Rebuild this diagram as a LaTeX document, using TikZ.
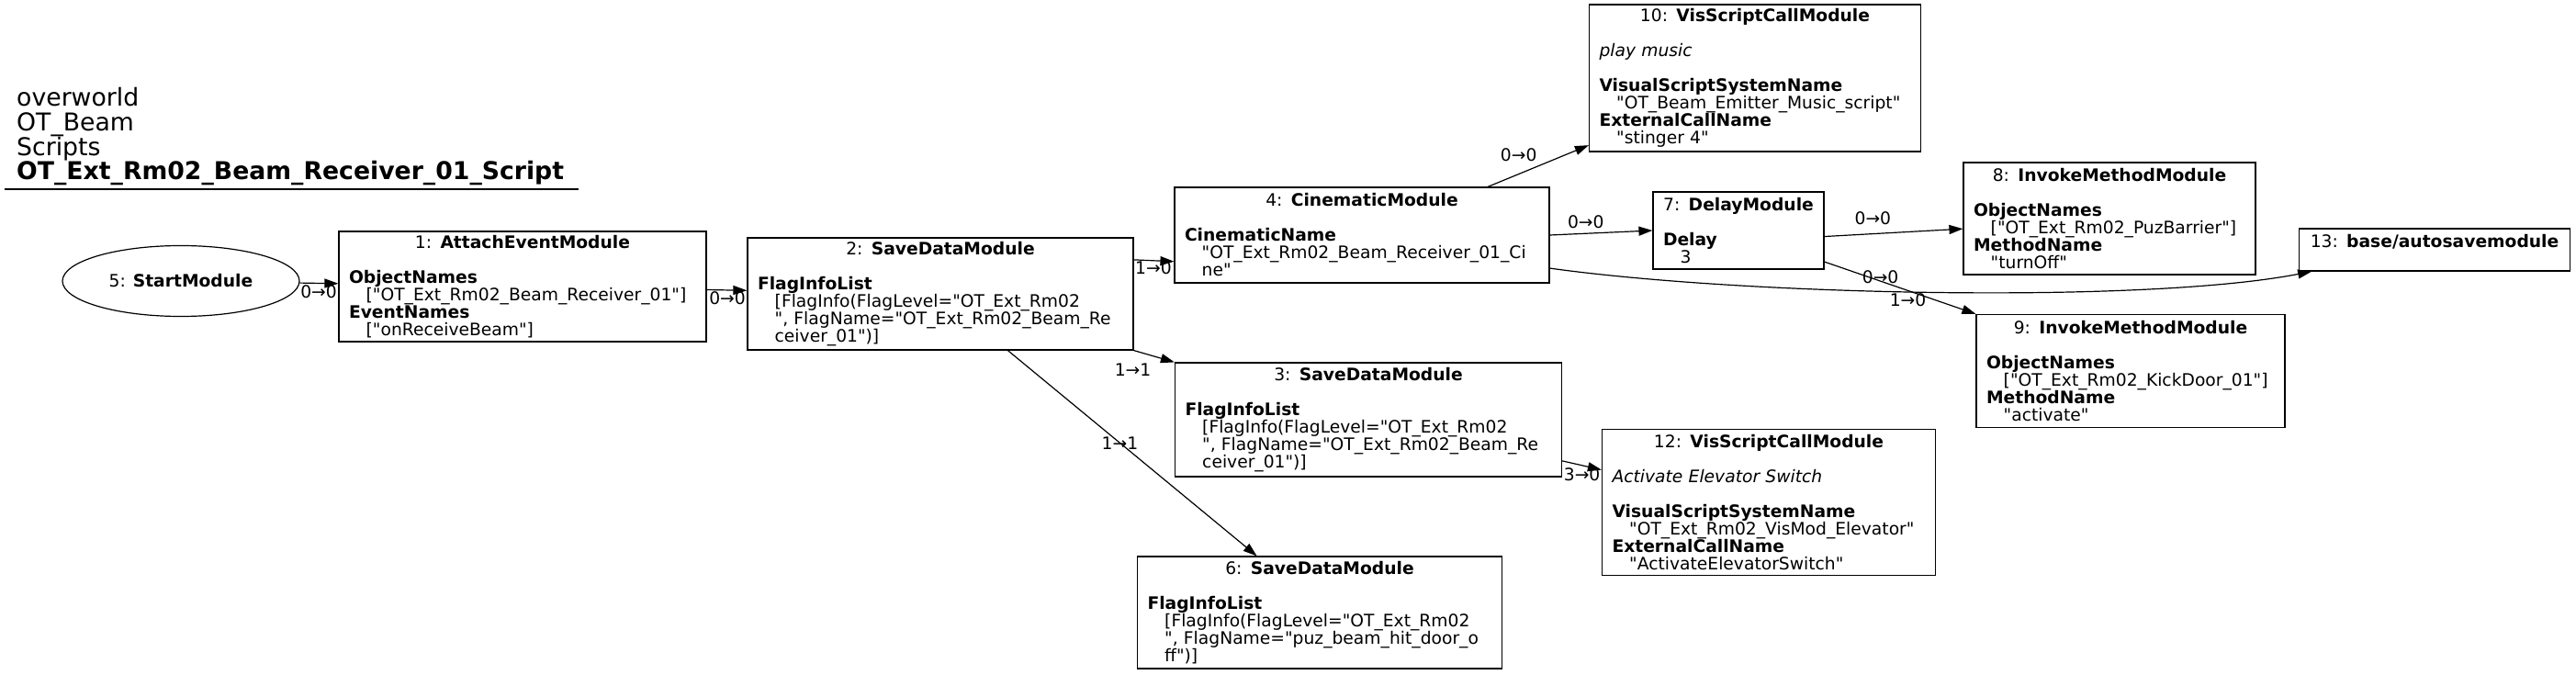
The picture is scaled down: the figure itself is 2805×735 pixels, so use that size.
\documentclass[tikz,border=0pt]{standalone}
\usepackage{fontspec}
\setmainfont{DejaVu Sans}[Ligatures=TeXOff]
\usepackage{tikz}
\usetikzlibrary{shapes.geometric, arrows.meta, positioning}

\newcommand{\modfont}{\fontsize{18.7}{19}\selectfont}
\newcommand{\titlefont}{\fontsize{26.7}{26.8}\selectfont}
\newcommand{\modtitle}[1]{\makebox[\linewidth][c]{#1}}
\newcommand{\fieldval}[1]{\hspace*{1em}\mbox{#1}}

\begin{document}
\begin{tikzpicture}[x=1pt, y=-1pt,
    modbox/.style={draw, rectangle, line width=1.2pt, inner sep=0pt, align=left, font=\modfont},
    edge/.style={line width=1.2pt, -{Triangle[length=15pt, width=10pt]}},
    elabel/.style={font=\modfont, inner sep=1pt}]
    \useasboundingbox (0,0) rectangle (2805,735);
    % Title
    \node[anchor=north west, align=left, inner sep=0pt, font=\titlefont] (title) at (18,95)
        {overworld\\OT\_Beam\\Scripts\\\textbf{OT\_Ext\_Rm02\_Beam\_Receiver\_01\_Script}};
    \draw[line width=1.2pt] (5,206) -- (630,206);
    % Start
    \node[draw, ellipse, line width=1.2pt, minimum width=258pt, minimum height=77pt, inner sep=0pt, font=\modfont]
        (start) at (197,306) {5: \textbf{StartModule}};
    % AttachEvent
    \node[modbox, minimum width=400pt, minimum height=120pt, text width=378pt] (attach) at (569,312)
        {\modtitle{1: \textbf{AttachEventModule}}\\[19pt]
         \textbf{ObjectNames}\\
         \fieldval{["OT\_Ext\_Rm02\_Beam\_Receiver\_01"]}\\
         \textbf{EventNames}\\
         \fieldval{["onReceiveBeam"]}};
    % SaveData 2
    \node[modbox, minimum width=420pt, minimum height=122pt, text width=398pt] (save2) at (1024,320)
        {\modtitle{2: \textbf{SaveDataModule}}\\[19pt]
         \textbf{FlagInfoList}\\
         \fieldval{[FlagInfo(FlagLevel="OT\_Ext\_Rm02}\\
         \fieldval{", FlagName="OT\_Ext\_Rm02\_Beam\_Re}\\
         \fieldval{ceiver\_01")]}};
    % Cinematic
    \node[modbox, minimum width=408pt, minimum height=104pt, text width=386pt] (cine) at (1483,256)
        {\modtitle{4: \textbf{CinematicModule}}\\[19pt]
         \textbf{CinematicName}\\
         \fieldval{"OT\_Ext\_Rm02\_Beam\_Receiver\_01\_Ci}\\
         \fieldval{ne"}};
    % VisScript 10
    \node[modbox, minimum width=361pt, minimum height=160pt, text width=339pt] (vis10) at (1911,85)
        {\modtitle{10: \textbf{VisScriptCallModule}}\\[19pt]
         \textit{play music}\\[19pt]
         \textbf{VisualScriptSystemName}\\
         \fieldval{"OT\_Beam\_Emitter\_Music\_script"}\\
         \textbf{ExternalCallName}\\
         \fieldval{"stinger 4"}};
    % Delay
    \node[modbox, minimum width=186pt, minimum height=84pt, text width=164pt] (delay) at (1893,251)
        {\modtitle{7: \textbf{DelayModule}}\\[19pt]
         \textbf{Delay}\\
         \fieldval{3}};
    % InvokeMethod 8
    \node[modbox, minimum width=318pt, minimum height=122pt, text width=296pt] (im8) at (2297,238)
        {\modtitle{8: \textbf{InvokeMethodModule}}\\[19pt]
         \textbf{ObjectNames}\\
         \fieldval{["OT\_Ext\_Rm02\_PuzBarrier"]}\\
         \textbf{MethodName}\\
         \fieldval{"turnOff"}};
    % Autosave
    \node[modbox, minimum width=295pt, minimum height=46pt, text width=273pt] (auto) at (2651,272)
        {\modtitle{13: \textbf{base/autosavemodule}}\\
         \mbox{}};
    % InvokeMethod 9
    \node[modbox, minimum width=336pt, minimum height=123pt, text width=314pt] (im9) at (2320,404)
        {\modtitle{9: \textbf{InvokeMethodModule}}\\[19pt]
         \textbf{ObjectNames}\\
         \fieldval{["OT\_Ext\_Rm02\_KickDoor\_01"]}\\
         \textbf{MethodName}\\
         \fieldval{"activate"}};
    % SaveData 3
    \node[modbox, minimum width=421pt, minimum height=124pt, text width=399pt] (pl3) at (1490,457)
        {\modtitle{3: \textbf{SaveDataModule}}\\[19pt]
         \textbf{FlagInfoList}\\
         \fieldval{[FlagInfo(FlagLevel="OT\_Ext\_Rm02}\\
         \fieldval{", FlagName="OT\_Ext\_Rm02\_Beam\_Re}\\
         \fieldval{ceiver\_01")]}};
    % VisScript 12
    \node[modbox, minimum width=363pt, minimum height=159pt, text width=341pt] (vs12) at (1926,547)
        {\modtitle{12: \textbf{VisScriptCallModule}}\\[19pt]
         \textit{Activate Elevator Switch}\\[19pt]
         \textbf{VisualScriptSystemName}\\
         \fieldval{"OT\_Ext\_Rm02\_VisMod\_Elevator"}\\
         \textbf{ExternalCallName}\\
         \fieldval{"ActivateElevatorSwitch"}};
    % SaveData 6
    \node[modbox, minimum width=397pt, minimum height=122pt, text width=375pt] (sd6) at (1437,667)
        {\modtitle{6: \textbf{SaveDataModule}}\\[19pt]
         \textbf{FlagInfoList}\\
         \fieldval{[FlagInfo(FlagLevel="OT\_Ext\_Rm02}\\
         \fieldval{", FlagName="puz\_beam\_hit\_door\_o}\\
         \fieldval{ff")]}};
    % Connectors
    \draw[edge] (start) -- (attach) node[elabel, pos=1, anchor=north east] (l51) {0→0};
    \draw[edge] (attach) -- (save2) node[elabel, pos=1, anchor=north east] (l12) {0→0};
    \draw[edge] (save2.10) -- (cine.188) node[elabel, pos=0, anchor=north west] (l24) {1→0};
    \draw[edge] (save2.south east) -- (pl3.north west) node[elabel, pos=1, anchor=north east, xshift=-24pt] (l23) {1→1};
    \draw[edge] (save2.-40) -- (sd6.138) node[elabel, pos=0.45] (l26) {1→1};
    \draw[edge] (cine.21.5) -- (vis10.202.5) node[elabel, pos=0.5, anchor=south east, yshift=3pt] (l410) {0→0};
    \draw[edge] (cine.east) -- (delay.west) node[elabel, pos=0.35, anchor=south, yshift=4pt] (l47) {0→0};
    \draw[edge] (cine.-10) .. controls +(215,30) and +(-180,35) .. (auto.190.6)
        node[elabel, pos=0.46, anchor=north] (l413) {1→0};
    \draw[edge] (delay.-4.9) -- (im8.184.3) node[elabel, pos=0.35, anchor=south, yshift=8pt] (l78) {0→0};
    \draw[edge] (delay.-20.6) -- (im9.north west) node[elabel, pos=0.37, yshift=4pt] (l79) {0→0};
    \draw[edge] (pl3.-12.4) -- (vs12.169.1) node[elabel, pos=1, anchor=north east, yshift=4pt] (l312) {3→0};
\end{tikzpicture}
\end{document}
